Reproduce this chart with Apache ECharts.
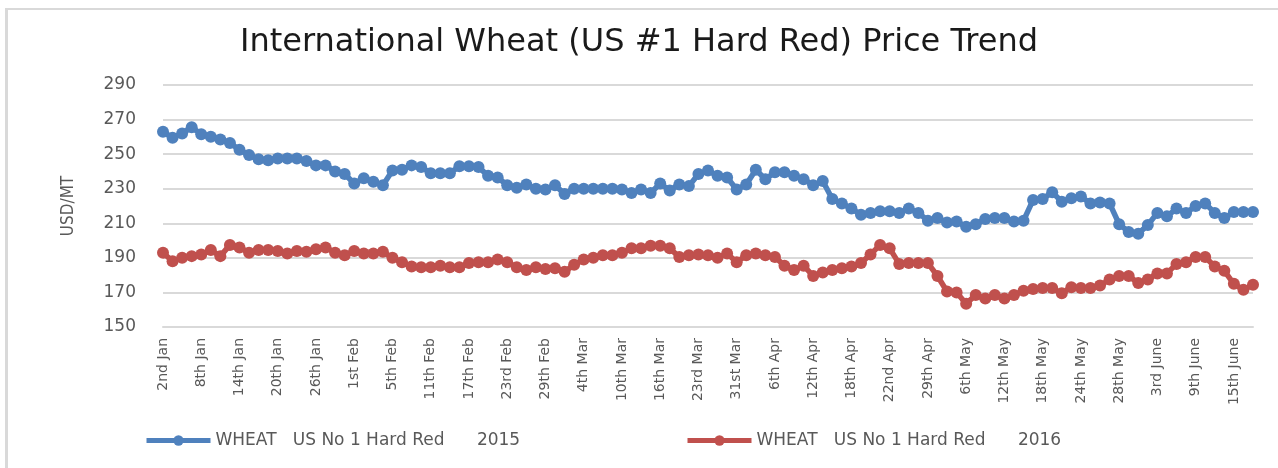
<!DOCTYPE html>
<html>
<head>
<meta charset="utf-8">
<script src="https://cdn.jsdelivr.net/npm/echarts@6/dist/echarts.min.js"></script>
<style>
  html, body { margin: 0; padding: 0; background: #fff; }
  #chart { width: 1278px; height: 468px; }
</style>
</head>
<body>
<div id="chart"></div>
<script>
const categories = [
  '2nd Jan', '5th Jan', '6th Jan', '7th Jan',
  '8th Jan', '11th Jan', '12th Jan', '13th Jan',
  '14th Jan', '15th Jan', '18th Jan', '19th Jan',
  '20th Jan', '21st Jan', '22nd Jan', '25th Jan',
  '26th Jan', '27th Jan', '28th Jan', '29th Jan',
  '1st Feb', '2nd Feb', '3rd Feb', '4th Feb',
  '5th Feb', '8th Feb', '9th Feb', '10th Feb',
  '11th Feb', '12th Feb', '15th Feb', '16th Feb',
  '17th Feb', '18th Feb', '19th Feb', '22nd Feb',
  '23rd Feb', '24th Feb', '25th Feb', '26th Feb',
  '29th Feb', '1st Mar', '2nd Mar', '3rd Mar',
  '4th Mar', '7th Mar', '8th Mar', '9th Mar',
  '10th Mar', '11th Mar', '14th Mar', '15th Mar',
  '16th Mar', '17th Mar', '18th Mar', '21st Mar',
  '23rd Mar', '24th Mar', '28th Mar', '30th Mar',
  '31st Mar', '1st Apr', '4th Apr', '5th Apr',
  '6th Apr', '7th Apr', '8th Apr', '11th Apr',
  '12th Apr', '13th Apr', '14th Apr', '15th Apr',
  '18th Apr', '19th Apr', '20th Apr', '21st Apr',
  '22nd Apr', '26th Apr', '27th Apr', '28th Apr',
  '29th Apr', '2nd May', '3rd May', '4th May',
  '6th May', '9th May', '10th May', '11th May',
  '12th May', '13th May', '16th May', '17th May',
  '18th May', '19th May', '20th May', '23rd May',
  '24th May', '25th May', '26th May', '27th May',
  '28th May', '31st May', '1st June', '2nd June',
  '3rd June', '6th June', '7th June', '8th June',
  '9th June', '10th June', '13th June', '14th June',
  '15th June', '16th June', '17th June'
]

const wheat2015 = [
  263, 259.5, 262, 265.5, 261.5, 260, 258.5, 256.5, 252.5, 249.5,
  247, 246.5, 247.5, 247.5, 247.5, 246, 243.5, 243.5, 240, 238.5,
  233, 236, 234, 232, 240.5, 241, 243.5, 242.5, 239, 239,
  239, 243, 243, 242.5, 237.5, 236.5, 232, 230.5, 232.5, 230,
  229.5, 232, 227, 230, 230, 230, 230, 230, 229.5, 227.5,
  229.5, 227.5, 233, 229, 232.5, 231.5, 238.5, 240.5, 237.5, 236.5,
  229.5, 232.5, 241, 235.5, 239.5, 239.5, 237.5, 235.5, 232, 234.5,
  224, 221.5, 218.5, 215, 216, 217, 217, 216, 218.5, 216,
  211.5, 213, 210.5, 211, 208, 209.5, 212.5, 213, 213, 211,
  211.5, 223.5, 224, 228, 222.5, 224.5, 225.5, 221.5, 222, 221.5,
  209.5, 205, 204, 209, 216, 214, 218.5, 216, 220, 221.5,
  216, 213, 216.5, 216.5, 216.5
]

const wheat2016 = [
  193, 188, 190, 191, 192, 194.5, 191, 197.5, 196, 193,
  194.5, 194.5, 194, 192.5, 194, 193.5, 195, 196, 193, 191.5,
  194, 192.5, 192.5, 193.5, 190, 187.5, 185, 184.5, 184.5, 185.5,
  184.5, 184.5, 187, 187.5, 187.5, 189, 187.5, 184.5, 183, 184.5,
  183.5, 184, 182, 186, 189, 190, 191.5, 191.5, 193, 195.5,
  195.5, 197, 197, 195.5, 190.5, 191.5, 192, 191.5, 190, 192.5,
  187.5, 191.5, 192.5, 191.5, 190.5, 185.5, 183, 185.5, 179.5, 181.5,
  183, 184, 185, 187, 192, 197.5, 195.5, 186.5, 187, 187,
  187, 179.5, 170.5, 170, 163.5, 168.5, 166.5, 168.5, 166.5, 168.5,
  171, 172, 172.5, 172.5, 169.5, 173, 172.5, 172.5, 174, 177.5,
  179.5, 179.5, 175.5, 177.5, 181, 181, 186.5, 187.5, 190.5, 190.5,
  185, 182.5, 175, 171.5, 174.5
]

const seriesNames = [
  'WHEAT   US No 1 Hard Red      2015',
  'WHEAT   US No 1 Hard Red      2016'
]

const chart = echarts.init(document.getElementById('chart'), null, { renderer: 'canvas' })

const lineSeries = (name, data, color) => ({
  name: name,
  type: 'line',
  data: data,
  symbol: 'circle',
  symbolSize: 12,
  showAllSymbol: true,
  color: color,
  lineStyle: { width: 5.5, color: color },
  itemStyle: { color: color },
  emphasis: { disabled: true },
  animation: false
})

const legendBase = {
  bottom: 14,
  itemWidth: 64,
  itemHeight: 13,
  itemGap: 4,
  lineStyle: { width: 5 },
  textStyle: { fontFamily: 'DejaVu Sans', fontSize: 17, color: '#595959' }
}

const option = {
  backgroundColor: '#fff',
  title: {
    text: 'International Wheat (US #1 Hard Red) Price Trend',
    left: 'center',
    top: 22,
    textStyle: { fontFamily: 'DejaVu Sans', fontSize: 32, fontWeight: 'normal', color: '#1a1a1a' }
  },
  legend: [
    { ...legendBase, left: 139, data: [seriesNames[0]] },
    { ...legendBase, left: 680, data: [seriesNames[1]] }
  ],
  grid: { left: 163, right: 25, top: 85, bottom: 141, containLabel: false },
  xAxis: {
    type: 'category',
    data: categories,
    boundaryGap: false,
    axisLine: { lineStyle: { color: '#d9d9d9', width: 2 } },
    axisTick: { show: false },
    axisLabel: {
      interval: 3,
      rotate: 90,
      margin: 11,
      fontFamily: 'DejaVu Sans',
      fontSize: 14,
      color: '#595959'
    }
  },
  yAxis: {
    type: 'value',
    min: 150,
    max: 290,
    interval: 20,
    name: 'USD/MT',
    nameLocation: 'middle',
    nameGap: 86,
    nameTextStyle: { fontFamily: 'DejaVu Sans Condensed, DejaVu Sans', fontSize: 17, color: '#595959' },
    axisLine: { show: false },
    axisTick: { show: false },
    axisLabel: { margin: 27, fontFamily: 'DejaVu Sans', fontSize: 17, color: '#595959' },
    splitLine: { lineStyle: { color: '#d9d9d9', width: 2 } }
  },
  graphic: [
    { type: 'line', shape: { x1: 6.5, y1: 8, x2: 6.5, y2: 468 }, style: { stroke: '#d9d9d9', lineWidth: 3 } },
    { type: 'line', shape: { x1: 5, y1: 9, x2: 1278, y2: 9 }, style: { stroke: '#d9d9d9', lineWidth: 2 } }
  ],
  series: [
    lineSeries(seriesNames[0], wheat2015, '#4f81bd'),
    lineSeries(seriesNames[1], wheat2016, '#c0504d')
  ]
}

chart.setOption(option)
</script>
</body>
</html>
